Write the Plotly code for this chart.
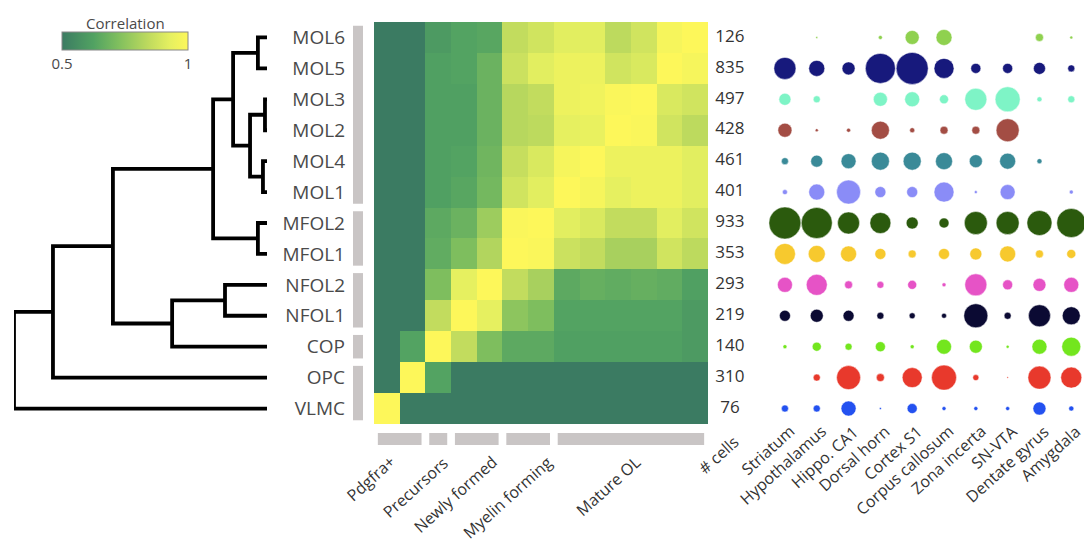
import plotly.graph_objects as go

W, H = 1084, 542

# ---------------- data ----------------
row_clusters = ["MOL6", "MOL5", "MOL3", "MOL2", "MOL4", "MOL1", "MFOL2", "MFOL1",
                "NFOL2", "NFOL1", "COP", "OPC", "VLMC"]
col_clusters = ["VLMC", "OPC", "COP", "NFOL1", "NFOL2", "MFOL1", "MFOL2",
                "MOL1", "MOL4", "MOL2", "MOL3", "MOL5", "MOL6"]
cell_counts = [126, 835, 497, 428, 461, 401, 933, 353, 293, 219, 140, 310, 76]

corr_MOL6 = [.50, .50, .60, .63, .64, .85, .88, .92, .92, .84, .88, .98, 1.0]
corr_MOL5 = [.50, .50, .62, .63, .68, .87, .92, .95, .95, .88, .90, 1.0, .98]
corr_MOL3 = [.50, .50, .62, .62, .68, .83, .85, .95, .96, .99, 1.0, .90, .88]
corr_MOL2 = [.50, .50, .62, .62, .68, .83, .84, .93, .94, 1.0, .99, .88, .84]
corr_MOL4 = [.50, .50, .62, .63, .69, .86, .90, .98, 1.0, .95, .95, .95, .92]
corr_MOL1 = [.50, .50, .62, .64, .70, .88, .92, 1.0, .98, .93, .95, .95, .92]
corr_MFOL2 = [.50, .50, .65, .68, .78, .99, 1.0, .92, .90, .85, .85, .92, .88]
corr_MFOL1 = [.50, .50, .66, .72, .82, 1.0, .99, .87, .85, .80, .80, .88, .84]
corr_NFOL2 = [.50, .50, .72, .93, 1.0, .85, .80, .65, .67, .66, .67, .66, .62]
corr_NFOL1 = [.50, .50, .85, 1.0, .93, .75, .72, .63, .63, .63, .63, .63, .60]
corr_COP = [.50, .63, 1.0, .85, .72, .65, .65, .62, .62, .62, .62, .62, .60]
corr_OPC = [.50, 1.0, .63, .50, .50, .50, .50, .50, .50, .50, .50, .50, .50]
corr_VLMC = [1.0, .50, .50, .50, .50, .50, .50, .50, .50, .50, .50, .50, .50]

# dendrogram merges (distance, leaves = 0)
merge_id = ["A", "B", "C", "D", "E", "F", "G", "H", "I", "J", "K", "L"]
merge_left = ["MOL6", "MOL3", "MOL4", "B", "A", "MFOL2", "E", "NFOL2", "H", "G", "J", "K"]
merge_right = ["MOL5", "MOL2", "MOL1", "C", "D", "MFOL1", "F", "NFOL1", "COP", "I", "OPC", "VLMC"]
merge_height = [3.6, 0.8, 1.6, 6.7, 13.4, 3.6, 21.3, 16.6, 37.5, 60.9, 84.6, 100.0]

regions = ["Striatum", "Hypothalamus", "Hippo. CA1", "Dorsal horn", "Cortex S1",
           "Corpus callosum", "Zona incerta", "SN-VTA", "Dentate gyrus", "Amygdala"]
dot_MOL6 = [0, 2, 0, 4, 14, 16, 0, 0, 8, 3]
dot_MOL5 = [22, 16, 13, 30, 32, 20, 10, 10, 12, 7]
dot_MOL3 = [12, 7, 0, 14, 15, 9, 22, 25, 5, 7]
dot_MOL2 = [14, 3, 4, 18, 5, 8, 8, 23, 0, 0]
dot_MOL4 = [7, 12, 15, 18, 18, 17, 13, 16, 5, 0]
dot_MOL1 = [5, 16, 24, 11, 11, 20, 3, 15, 0, 4]
dot_MFOL2 = [32, 31, 22, 21, 12, 10, 23, 23, 25, 29]
dot_MFOL1 = [21, 17, 16, 11, 8, 11, 12, 16, 8, 9]
dot_NFOL2 = [15, 21, 8, 7, 9, 4, 22, 10, 13, 15]
dot_NFOL1 = [11, 13, 11, 7, 6, 5, 24, 7, 22, 18]
dot_COP = [4, 9, 7, 10, 4, 15, 13, 3, 15, 19]
dot_OPC = [0, 7, 24, 8, 20, 25, 6, 1.5, 23, 21]
dot_VLMC = [7, 7, 15, 2, 10, 4, 4, 4, 13, 5]

cluster_colors = ["#8fd14f", "#17197c", "#7ef4c6", "#a34d44", "#3a8a98", "#8a8cf7",
                  "#2b5a0d", "#f7c92e", "#e653c6", "#0b0a33", "#73e61e", "#e8392c", "#2351f0"]

col_groups = ["Pdgfra+", "Precursors", "Newly formed", "Myelin forming", "Mature OL"]
col_group_span = [(0, 1), (2, 2), (3, 4), (5, 6), (7, 12)]
row_group_span = [(0, 5), (6, 7), (8, 9), (10, 10), (11, 12)]

corr = [corr_MOL6, corr_MOL5, corr_MOL3, corr_MOL2, corr_MOL4, corr_MOL1, corr_MFOL2,
        corr_MFOL1, corr_NFOL2, corr_NFOL1, corr_COP, corr_OPC, corr_VLMC]
dots = [dot_MOL6, dot_MOL5, dot_MOL3, dot_MOL2, dot_MOL4, dot_MOL1, dot_MFOL2,
        dot_MFOL1, dot_NFOL2, dot_NFOL1, dot_COP, dot_OPC, dot_VLMC]

FONT = "Open Sans"
TXT = "#4a4a4a"

def px(x):
    return x / W

def py(y):
    return 1 - y / H

fig = go.Figure()

# ---------------- heatmap ----------------
cscale = [[0, "#3b7b62"], [0.25, "#51a262"], [0.45, "#80bf5e"], [0.7, "#c2dc5e"],
          [0.86, "#e6f060"], [1, "#fdf75a"]]
fig.add_trace(go.Heatmap(
    z=corr, x=list(range(13)), y=list(range(13)), colorscale=cscale, zmin=0.5, zmax=1,
    xaxis="x", yaxis="y", hoverinfo="skip",
    colorbar=dict(orientation="h", x=px(125), xanchor="center", y=py(32), yanchor="top",
                  len=126, lenmode="pixels", thickness=18, xpad=0, ypad=0,
                  outlinewidth=1, outlinecolor="#888",
                  tickvals=[0.5, 1], ticktext=["0.5", "1"], ticks="",
                  tickfont=dict(family=FONT, size=15, color=TXT)),
))

# ---------------- dendrogram ----------------
pos = {name: (0.0, i) for i, name in enumerate(row_clusters)}
dx, dy = [], []
for mid, a, b, h in zip(merge_id, merge_left, merge_right, merge_height):
    ha, ya = pos[a]
    hb, yb = pos[b]
    dx += [ha, h, h, hb, None]
    dy += [ya, ya, yb, yb, None]
    pos[mid] = (h, (ya + yb) / 2)
fig.add_trace(go.Scatter(x=dx, y=dy, mode="lines", line=dict(color="black", width=3.8),
                         xaxis="x2", yaxis="y", hoverinfo="skip", showlegend=False))

# ---------------- cell counts (column left of the dot plot) ----------------
COUNT_X = -1.73
fig.add_trace(go.Scatter(
    x=[COUNT_X] * len(cell_counts), y=list(range(13)), text=[str(c) for c in cell_counts],
    mode="text", textfont=dict(family=FONT, size=17, color="#333"),
    cliponaxis=False, xaxis="x3", yaxis="y", hoverinfo="skip", showlegend=False))

# ---------------- dot plot ----------------
for i, (row, col) in enumerate(zip(dots, cluster_colors)):
    xs = [j for j, v in enumerate(row) if v > 0]
    ss = [v for v in row if v > 0]
    fig.add_trace(go.Scatter(x=xs, y=[i] * len(xs), mode="markers",
                             marker=dict(size=ss, color=col, opacity=1,
                                         line=dict(width=0.6, color="rgba(255,255,255,0.8)")),
                             xaxis="x3", yaxis="y", hoverinfo="skip", showlegend=False,
                             cliponaxis=False))

# ---------------- shapes ----------------
shapes = []
for a, b in row_group_span:
    shapes.append(dict(type="rect", xref="paper", yref="y", x0=px(353), x1=px(363),
                       y0=a - 0.5 + 0.12, y1=b + 0.5 - 0.12,
                       fillcolor="#c9c5c5", line=dict(width=0), layer="above"))
for a, b in col_group_span:
    shapes.append(dict(type="rect", xref="x", yref="paper", x0=a - 0.5 + 0.15,
                       x1=b + 0.5 - 0.15, y0=py(445), y1=py(433),
                       fillcolor="#c9c5c5", line=dict(width=0)))

# ---------------- annotations ----------------
ann = [dict(text="Correlation", xref="paper", yref="paper", x=px(125), y=py(23),
            xanchor="center", yanchor="middle", showarrow=False,
            font=dict(family=FONT, size=15, color=TXT))]
group_label_px = [(395, 450), (448, 451), (497, 450), (552, 450), (640, 451)]
for text, (x, y) in zip(col_groups, group_label_px):
    ann.append(dict(text=text, xref="paper", yref="paper", x=px(x + 8), y=py(y - 2),
                    xanchor="right", yanchor="top", showarrow=False, textangle=-42,
                    font=dict(family=FONT, size=16, color="#333")))
ann.append(dict(text="# cells", xref="x3", yref="paper", x=COUNT_X, xshift=16, y=py(428),
                xanchor="right", yanchor="top", showarrow=False, textangle=-42,
                font=dict(family=FONT, size=16, color="#333")))
for j, r in enumerate(regions):
    ann.append(dict(text=r, xref="x3", yref="paper", x=j, xshift=17, y=py(418),
                    xanchor="right", yanchor="top", showarrow=False, textangle=-42,
                    font=dict(family=FONT, size=16, color="#333")))

fig.update_layout(
    width=W, height=H, margin=dict(l=0, r=0, t=0, b=0, autoexpand=False),
    paper_bgcolor="white", plot_bgcolor="white", showlegend=False,
    shapes=shapes, annotations=ann,
    xaxis=dict(domain=[px(374), px(708)], range=[-0.5, 12.5], visible=False),
    xaxis2=dict(domain=[px(14), px(267)], range=[100, 0], visible=False, anchor="y"),
    xaxis3=dict(domain=[px(708), 1.0], range=[-2.418, 9.4], visible=False, anchor="y"),
    yaxis=dict(domain=[py(424), py(22)], range=[12.5, -0.5], tickvals=list(range(13)),
               ticktext=row_clusters, ticks="", showgrid=False, zeroline=False,
               showline=False, ticklabelstandoff=28,
               tickfont=dict(family=FONT, size=19, color=TXT), anchor="x"),
)

fig.write_html("out.html", config={"displayModeBar": False},
               post_script="document.body.style.margin='0';document.body.style.padding='0';")
